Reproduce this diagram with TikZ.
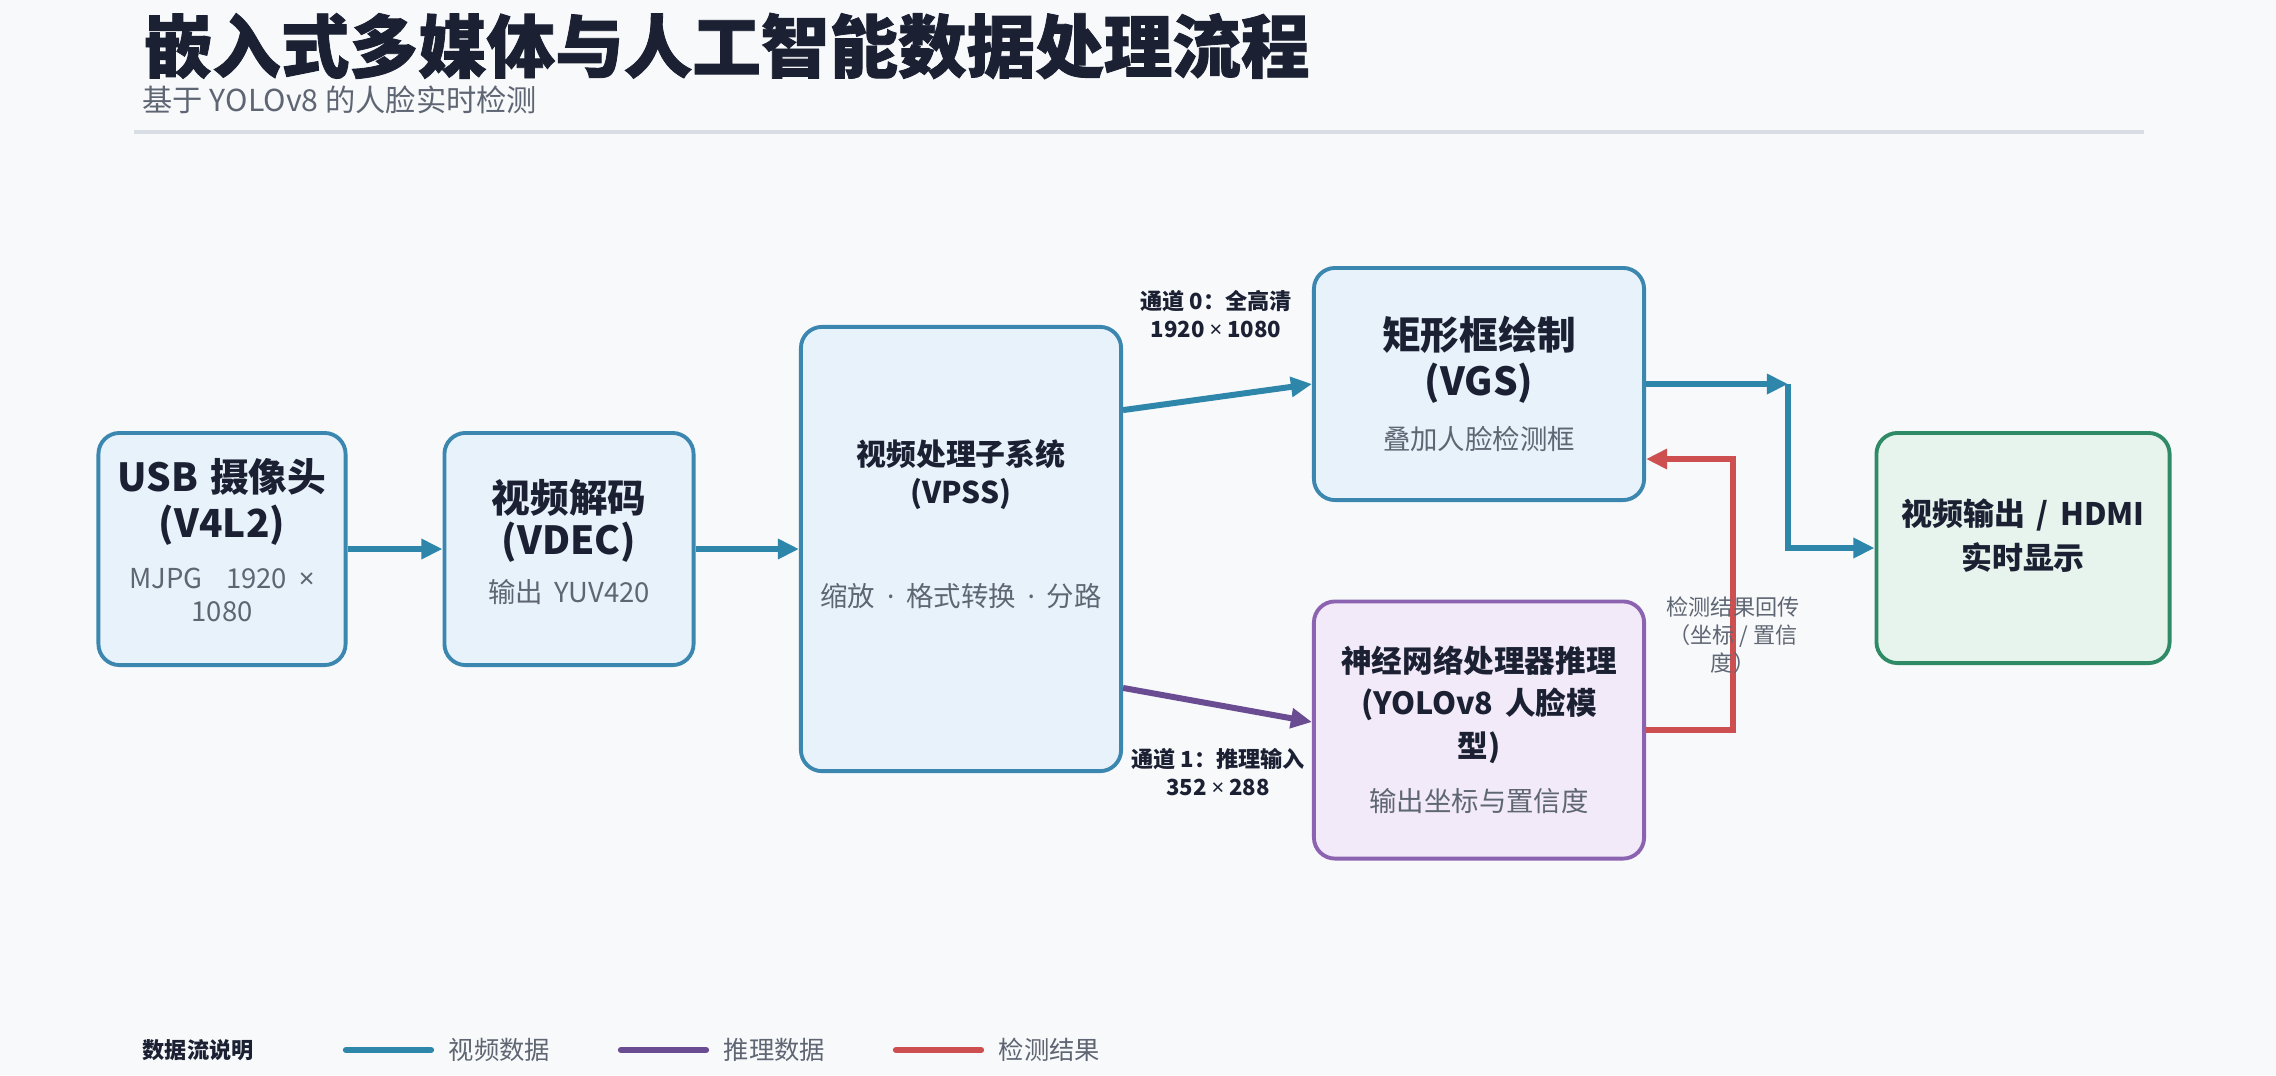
\documentclass[tikz,border=0pt]{standalone}
\usepackage{fontspec}
\setmainfont{Noto Sans CJK SC}
\newfontfamily\heavyfont{Noto Sans CJK SC}[BoldFeatures={FakeBold=1.2}]
\newfontfamily\latinsym{Noto Sans}
\usepackage{tikz}
\usetikzlibrary{calc,arrows.meta}

\definecolor{pagebg}{HTML}{F8F9FB}
\definecolor{titleink}{HTML}{1B2133}
\definecolor{noteink}{HTML}{5F6673}
\definecolor{rulegray}{HTML}{D9DEE4}
\definecolor{videoline}{HTML}{2E86AB}
\definecolor{inferline}{HTML}{6A4C93}
\definecolor{resultline}{HTML}{CD4F4F}
\definecolor{blueedge}{HTML}{3B87B0}
\definecolor{bluefill}{HTML}{E8F2FB}
\definecolor{purpleedge}{HTML}{8B63B0}
\definecolor{purplefill}{HTML}{F2EAF8}
\definecolor{greenedge}{HTML}{2F8A66}
\definecolor{greenfill}{HTML}{E7F4EE}

\newcommand\boxHead[2]{\bfseries\color{titleink}\fontsize{#1}{#2}\selectfont}
\newcommand\boxNote{\mdseries\color{noteink}\fontsize{7.8}{9.5}\selectfont}
\newcommand\timesSign{{\latinsym ×}}
\newcommand\midDot{{\latinsym\ ·\ }}
\newcommand\padBottom[1]{\par\nointerlineskip\vspace{#1}\hbox{}}

\begin{document}
\begin{tikzpicture}[x=0.01cm,y=-0.01cm,
  stagebox/.style={draw=blueedge, fill=bluefill, line width=1.1pt,
    rounded corners=6pt, align=center, inner sep=0pt},
  vidflow/.style={draw=videoline, line width=1.7pt, -{Triangle[length=6pt,width=5.5pt]}},
  infflow/.style={draw=inferline, line width=1.7pt, -{Triangle[length=6pt,width=5.5pt]}},
  resflow/.style={draw=resultline, line width=1.7pt, -{Triangle[length=6pt,width=5.5pt]}},
  chanlabel/.style={align=center, inner sep=0pt, text=titleink,
    font=\bfseries\fontsize{6.3}{8}\selectfont},
  notelabel/.style={align=center, inner sep=0pt, text=noteink,
    font=\fontsize{6.3}{8}\selectfont}]

  %% page and heading
  \fill[pagebg] (0,0) rectangle (2276,1075);
  \node[anchor=west, inner sep=0pt, text=titleink,
    font=\heavyfont\bfseries\fontsize{19.5}{23}\selectfont] (title) at (143,46)
    {嵌入式多媒体与人工智能数据处理流程};
  \node[anchor=west, inner sep=0pt, text=noteink,
    font=\fontsize{8.6}{10}\selectfont] (subtitle) at (142,100)
    {基于 YOLOv8 的人脸实时检测};
  \draw[rulegray, line width=0.9pt] (134,132) -- (2144,132);

  %% processing stages
  \node[stagebox, minimum width=2.47cm, minimum height=2.32cm, text width=2.3cm]
    (cam) at (222,549)
    {{\boxHead{11}{13}USB 摄像头\\(V4L2)\par}\vspace{5pt}%
     {\boxNote MJPG\ \ 1920 \timesSign\\1080\par}\padBottom{5pt}};
  \node[stagebox, minimum width=2.49cm, minimum height=2.32cm, text width=2.3cm]
    (vdec) at (569,549)
    {{\boxHead{11}{12}视频解码\\(VDEC)\par}\vspace{4pt}%
     {\boxNote 输出 YUV420\par}\padBottom{4pt}};
  \node[stagebox, minimum width=3.20cm, minimum height=4.44cm, text width=3.1cm]
    (vpss) at (961,549)
    {{\boxHead{8.5}{10.7}视频处理子系统\\(VPSS)\par}\vspace{20pt}%
     {\boxNote 缩放\midDot 格式转换\midDot 分路\par}\padBottom{14pt}};
  \node[stagebox, minimum width=3.30cm, minimum height=2.32cm, text width=3.1cm]
    (vgs) at (1479,384)
    {{\boxHead{11}{13}矩形框绘制\\(VGS)\par}\vspace{6pt}%
     {\boxNote 叠加人脸检测框\par}};
  \node[stagebox, draw=purpleedge, fill=purplefill, minimum width=3.30cm,
    minimum height=2.57cm, text width=3.1cm] (npu) at (1479,730)
    {{\boxHead{8.7}{12}神经网络处理器推理\\(YOLOv8 人脸模\\型)\par}\vspace{6pt}%
     {\boxNote 输出坐标与置信度\par}};
  \node[stagebox, draw=greenedge, fill=greenfill, minimum width=2.93cm,
    minimum height=2.30cm, text width=2.8cm] (hdmi) at (2023,548)
    {{\boxHead{8.8}{12.4}视频输出 / HDMI\\实时显示\par}\padBottom{7pt}};

  %% data paths
  \draw[vidflow] (cam.east) -- (cam.east -| vdec.west);
  \draw[vidflow] (vdec.east) -- (vdec.east -| vpss.west);
  \draw[vidflow] ($(vpss.north east)!0.19!(vpss.south east)$) -- (vgs.west);
  \draw[infflow] ($(vpss.north east)!0.81!(vpss.south east)$) -- ($(npu.west)+(0,-8)$);
  \coordinate (turn) at (1788,384);
  \draw[vidflow] (vgs.east) -- (turn);
  \draw[vidflow] (turn) |- (hdmi.west);
  \coordinate (back) at (1733,459);
  \draw[resflow] (npu.east) -| (back) -- (back -| vgs.east);

  %% path labels
  \node[chanlabel] (ch0) at (1216,314) {通道 0：全高清\\1920 \timesSign\ 1080};
  \node[chanlabel] (ch1) at (1218,772) {通道 1：推理输入\\352 \timesSign\ 288};
  \node[notelabel] (backlbl) at (1733,635) {检测结果回传\\（坐标 / 置信\\度）};

  %% legend
  \node[anchor=west, inner sep=0pt, text=titleink,
    font=\bfseries\fontsize{6.3}{8}\selectfont] (legtitle) at (142,1050) {数据流说明};
  \foreach \col/\txt/\xx in {videoline/视频数据/346, inferline/推理数据/621, resultline/检测结果/896}
  {
    \coordinate (ls\xx) at (\xx,1050);
    \coordinate (le\xx) at (\xx+85,1050);
    \draw[\col, line width=1.8pt, line cap=round] (ls\xx) -- (le\xx);
    \node[anchor=west, inner sep=0pt, text=noteink,
      font=\fontsize{7.2}{9}\selectfont] (lt\xx) at ($(le\xx)+(17,0)$) {\txt};
  }
\end{tikzpicture}
\end{document}
